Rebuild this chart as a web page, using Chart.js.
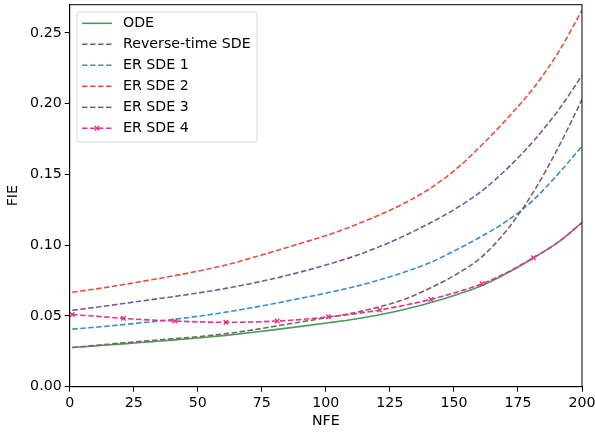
<!DOCTYPE html>
<html>
<head>
<meta charset="utf-8">
<script src="https://cdn.jsdelivr.net/npm/chart.js@4.4.1/dist/chart.umd.min.js"></script>
<style>
  html, body { margin: 0; padding: 0; background: #fff; }
  #wrap { width: 595px; height: 432px; }
</style>
</head>
<body>
<div id="wrap"><canvas id="chartCanvas" width="595" height="432"></canvas></div>
<script>
// NFE sample points (markers of ER SDE 4 sit every 20 steps from 1)
const nfe = [1, 11, 21, 31, 41, 51, 61, 71, 81, 91, 101, 111, 121, 131, 141, 151, 161, 171, 181, 191, 200];

const ode        = [0.0277, 0.0290, 0.0303, 0.0317, 0.0331, 0.0346, 0.0363, 0.0383, 0.0405, 0.0428, 0.0452, 0.0477, 0.0508, 0.0547, 0.0595, 0.0650, 0.0715, 0.0805, 0.0910, 0.1025, 0.1160];
const reverseSde = [0.0540, 0.0563, 0.0588, 0.0613, 0.0638, 0.0665, 0.0695, 0.0730, 0.0770, 0.0815, 0.0865, 0.0922, 0.0990, 0.1070, 0.1160, 0.1262, 0.1385, 0.1545, 0.1735, 0.1960, 0.2200];
const erSde1     = [0.0407, 0.0422, 0.0439, 0.0457, 0.0477, 0.0500, 0.0527, 0.0558, 0.0592, 0.0628, 0.0665, 0.0706, 0.0755, 0.0812, 0.0880, 0.0968, 0.1065, 0.1175, 0.1320, 0.1510, 0.1700];
const erSde2     = [0.0668, 0.0693, 0.0722, 0.0753, 0.0785, 0.0820, 0.0860, 0.0910, 0.0963, 0.1018, 0.1073, 0.1140, 0.1215, 0.1300, 0.1405, 0.1540, 0.1710, 0.1900, 0.2110, 0.2370, 0.2660];
const erSde3     = [0.0277, 0.0293, 0.0310, 0.0325, 0.0340, 0.0355, 0.0375, 0.0400, 0.0430, 0.0460, 0.0490, 0.0522, 0.0565, 0.0620, 0.0700, 0.0795, 0.0920, 0.1115, 0.1375, 0.1700, 0.2030];
const erSde4     = [0.0510, 0.0497, 0.0483, 0.0472, 0.0464, 0.0458, 0.0455, 0.0457, 0.0464, 0.0476, 0.0494, 0.0515, 0.0542, 0.0577, 0.0617, 0.0668, 0.0727, 0.0810, 0.0911, 0.1025, 0.1160];

const xTicks = [0, 25, 50, 75, 100, 125, 150, 175, 200];
const yTicks = [0, 0.05, 0.10, 0.15, 0.20, 0.25];

const FONT = "'DejaVu Sans', sans-serif";
const FSIZE = 14.2;

function toPoints(ys) {
    return ys.map((y, i) => ({x: nfe[i], y: y}));
}

let series = [
    {label: 'ODE',              data: ode,        color: '#4c9a5c', dash: []},
    {label: 'Reverse-time SDE', data: reverseSde, color: '#7b559c', dash: [5.5, 2.5]},
    {label: 'ER SDE 1',         data: erSde1,     color: '#3a8fd0', dash: [5.5, 2.5]},
    {label: 'ER SDE 2',         data: erSde2,     color: '#e5503e', dash: [5.5, 2.5]},
    {label: 'ER SDE 3',         data: erSde3,     color: '#7f6262', dash: [5.5, 2.5]},
    {label: 'ER SDE 4',         data: erSde4,     color: '#e6338d', dash: [5.5, 2.5], marker: true},
];

let datasets = series.map((s, i) => ({
    label: s.label,
    data: toPoints(s.data),
    borderColor: s.color,
    backgroundColor: s.color,
    borderWidth: 1.6,
    borderDash: s.dash,
    cubicInterpolationMode: 'monotone',
    fill: false,
    order: series.length - i,
    pointStyle: 'crossRot',
    pointBorderWidth: 1.4,
    pointRadius: s.marker ? (ctx) => (ctx.dataIndex % 2 === 0 && ctx.dataIndex < 20 ? 3.2 : 0) : 0,
    pointHoverRadius: 0,
}));

// matplotlib like frame + legend box in the upper left corner
const framePlugin = {
    id: 'frame',
    afterDatasetsDraw(chart) {
        const {ctx, chartArea: a} = chart;
        ctx.save();
        ctx.strokeStyle = '#000';
        ctx.lineWidth = 1;
        ctx.strokeRect(a.left, a.top, a.right - a.left, a.bottom - a.top);

        // legend
        const bx = 77, by = 12, bw = 180, bh = 130, r = 3;
        ctx.beginPath();
        ctx.moveTo(bx + r, by);
        ctx.arcTo(bx + bw, by, bx + bw, by + bh, r);
        ctx.arcTo(bx + bw, by + bh, bx, by + bh, r);
        ctx.arcTo(bx, by + bh, bx, by, r);
        ctx.arcTo(bx, by, bx + bw, by, r);
        ctx.closePath();
        ctx.fillStyle = 'rgba(255,255,255,0.8)';
        ctx.fill();
        ctx.strokeStyle = '#d6d6d6';
        ctx.stroke();

        ctx.font = FSIZE + 'px ' + FONT;
        ctx.textBaseline = 'middle';
        ctx.textAlign = 'left';
        series.forEach((s, i) => {
            const y = 23.3 + i * 21;
            ctx.strokeStyle = s.color;
            ctx.lineWidth = 1.6;
            ctx.setLineDash(s.dash);
            ctx.beginPath();
            ctx.moveTo(82, y);
            ctx.lineTo(112, y);
            ctx.stroke();
            ctx.setLineDash([]);
            if (s.marker) {
                ctx.lineWidth = 1.4;
                ctx.beginPath();
                ctx.moveTo(97 - 2.3, y - 2.3); ctx.lineTo(97 + 2.3, y + 2.3);
                ctx.moveTo(97 + 2.3, y - 2.3); ctx.lineTo(97 - 2.3, y + 2.3);
                ctx.stroke();
            }
            ctx.fillStyle = '#000';
            ctx.fillText(s.label, 123, y + 0.5);
        });
        ctx.restore();
    }
};

let chart = new Chart(document.querySelector('#chartCanvas'), {
    type: 'line',
    data: {datasets: datasets},
    options: {
        responsive: false,
        animation: false,
        layout: {padding: {top: 4.7, right: 13, left: 0, bottom: 0}},
        plugins: {
            legend: {display: false},
            tooltip: {enabled: false},
        },
        scales: {
            x: {
                type: 'linear',
                min: 0,
                max: 200,
                afterBuildTicks: (axis) => { axis.ticks = xTicks.map(v => ({value: v})); },
                afterFit: (axis) => { axis.height = 45.3; axis.paddingLeft = 0; axis.paddingRight = 0; },
                grid: {drawOnChartArea: false, drawTicks: true, tickLength: 5, color: '#000', tickWidth: 1},
                border: {color: '#000', width: 1},
                ticks: {color: '#000', font: {family: FONT, size: FSIZE}, padding: 3, maxRotation: 0},
                title: {display: true, text: 'NFE', color: '#000', font: {family: FONT, size: FSIZE}, padding: {top: 0, bottom: 2}},
            },
            y: {
                type: 'linear',
                min: 0,
                max: 0.27,
                afterBuildTicks: (axis) => { axis.ticks = yTicks.map(v => ({value: v})); },
                afterFit: (axis) => { axis.width = 69.7; axis.paddingTop = 0; axis.paddingBottom = 0; },
                grid: {drawOnChartArea: false, drawTicks: true, tickLength: 5, color: '#000', tickWidth: 1},
                border: {color: '#000', width: 1},
                ticks: {color: '#000', font: {family: FONT, size: FSIZE}, padding: 3, callback: (v) => v.toFixed(2)},
                title: {display: true, text: 'FIE', color: '#000', font: {family: FONT, size: FSIZE}, padding: {top: 5, bottom: 0}},
            },
        },
    },
    plugins: [framePlugin],
});
</script>
</body>
</html>
